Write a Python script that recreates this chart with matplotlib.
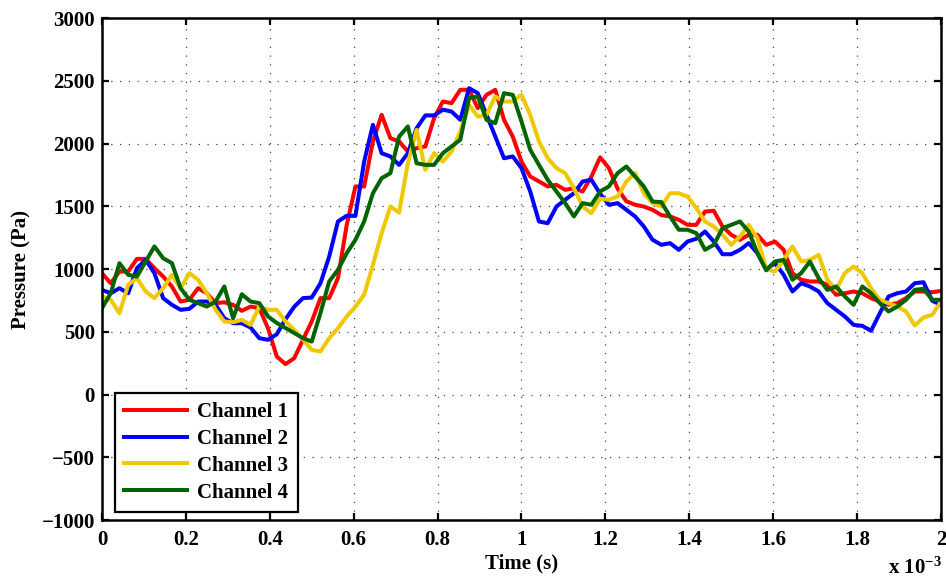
import numpy as np
import matplotlib
matplotlib.use("Agg")
import matplotlib.pyplot as plt


##################################
# Data (pressure in Pa, 48 kHz samples over 2 ms)
##################################
t_ms = np.arange(97) / 48.0

channel1 = [967, 887, 980, 980, 1081, 1081, 1007, 940, 861, 741,
            755, 847, 807, 728, 735, 715, 667, 701, 688, 528,
            303, 242, 290, 436, 582, 768, 768, 927, 1350, 1658,
            1658, 2016, 2229, 2043, 2016, 1937, 1963, 1977, 2202, 2335,
            2322, 2428, 2428, 2282, 2388, 2428, 2189, 2056, 1857, 1737,
            1698, 1658, 1671, 1631, 1644, 1618, 1737, 1890, 1804, 1640,
            1540, 1512, 1498, 1472, 1430, 1419, 1392, 1352, 1352, 1458,
            1464, 1339, 1273, 1233, 1273, 1273, 1193, 1219, 1153, 967,
            914, 901, 901, 874, 795, 807, 821, 807, 768, 741,
            715, 728, 768, 821, 821, 815, 826]

channel2 = [834, 807, 847, 807, 1007, 1073, 967, 768, 715, 675,
            683, 741, 741, 715, 608, 568, 568, 534, 449, 436,
            480, 600, 700, 768, 773, 887, 1100, 1379, 1424, 1424,
            1857, 2149, 1923, 1897, 1830, 1923, 2122, 2224, 2224, 2270,
            2255, 2189, 2441, 2401, 2229, 2056, 1883, 1897, 1804, 1618,
            1379, 1365, 1498, 1552, 1604, 1698, 1711, 1600, 1512, 1525,
            1472, 1419, 1339, 1233, 1193, 1206, 1153, 1219, 1241, 1299,
            1219, 1118, 1118, 1153, 1206, 1126, 1000, 1047, 954, 821,
            887, 861, 821, 728, 675, 622, 555, 547, 508, 648,
            781, 807, 821, 887, 895, 747, 715]

channel3 = [781, 755, 648, 874, 927, 821, 768, 847, 954, 847,
            967, 914, 807, 675, 582, 576, 595, 555, 701, 675,
            675, 582, 515, 440, 356, 343, 449, 528, 622, 701,
            795, 1034, 1286, 1498, 1450, 1843, 2109, 1791, 1923, 1857,
            1937, 2096, 2309, 2216, 2229, 2375, 2335, 2335, 2388, 2229,
            2016, 1883, 1804, 1764, 1644, 1498, 1445, 1560, 1552, 1578,
            1698, 1764, 1604, 1525, 1498, 1604, 1604, 1578, 1485, 1379,
            1339, 1273, 1193, 1259, 1352, 1246, 1000, 980, 1073, 1180,
            1060, 1073, 1113, 914, 834, 967, 1020, 967, 847, 755,
            728, 701, 662, 550, 614, 635, 741]

channel4 = [688, 807, 1047, 954, 940, 1060, 1180, 1086, 1047, 847,
            755, 728, 701, 741, 861, 608, 799, 741, 728, 622,
            570, 530, 490, 449, 422, 650, 901, 994, 1126, 1233,
            1379, 1604, 1724, 1764, 2056, 2136, 1843, 1830, 1830, 1923,
            1977, 2030, 2362, 2375, 2189, 2162, 2401, 2388, 2176, 1950,
            1830, 1711, 1618, 1525, 1419, 1525, 1512, 1618, 1658, 1764,
            1817, 1737, 1658, 1538, 1533, 1419, 1313, 1313, 1286, 1153,
            1193, 1325, 1352, 1379, 1299, 1126, 990, 1060, 1073, 914,
            967, 1060, 927, 834, 861, 781, 715, 861, 807, 728,
            662, 701, 755, 834, 842, 755, 755]

labels = ['Channel 1', 'Channel 2', 'Channel 3', 'Channel 4']
colors = ['#ff0000', '#0000ff', '#f0c800', '#006400']

xticks = [0, 0.2, 0.4, 0.6, 0.8, 1.0, 1.2, 1.4, 1.6, 1.8, 2.0]
yticks = [-1000, -500, 0, 500, 1000, 1500, 2000, 2500, 3000]


##################################
# Style (MATLAB-like)
##################################
plt.rcParams['font.family'] = ['Liberation Serif', 'DejaVu Serif']
plt.rcParams['font.weight'] = 'bold'
plt.rcParams['mathtext.fontset'] = 'custom'
plt.rcParams['mathtext.rm'] = 'Liberation Serif:bold'
plt.rcParams['mathtext.bf'] = 'Liberation Serif:bold'
plt.rcParams['mathtext.default'] = 'bf'

fig = plt.figure(figsize=(9.46, 5.82), dpi=100)
ax = fig.add_axes([0.1078, 0.1065, 0.8869, 0.8625])

for data, lab, col in zip([channel1, channel2, channel3, channel4], labels, colors):
    ax.plot(t_ms, data, color=col, linewidth=2.9, label=lab)

ax.set_xlim(0, 2)
ax.set_ylim(-1000, 3000)
ax.set_xticks(xticks)
ax.set_xticklabels(['%g' % x for x in xticks])
ax.set_yticks(yticks)
ax.set_yticklabels([str(y).replace('-', '\u2212') for y in yticks])

ax.grid(True, color='#444444', linestyle=(0, (1, 6)), linewidth=0.9)
ax.tick_params(direction='in', length=5, width=1.6, top=True, right=True,
               labelsize=15, pad=5)
ax.tick_params(axis='x', pad=7)
for s in ax.spines.values():
    s.set_linewidth(1.8)

ax.set_xlabel('Time (s)', fontsize=15, fontweight='bold', labelpad=3)
ax.set_ylabel('Pressure (Pa)', fontsize=15, fontweight='bold', labelpad=7)

fig.text(0.939, 0.005, r'x 10$^{-3}$', fontsize=15, ha='left', va='bottom')

leg = ax.legend(loc='lower left', bbox_to_anchor=(0.0155, 0.016),
                borderaxespad=0, fancybox=False, edgecolor='black',
                framealpha=1, fontsize=15, handlelength=3.0,
                handletextpad=0.5, labelspacing=0.33, borderpad=0.45)
leg.get_frame().set_linewidth(1.6)

plt.savefig('out.png', dpi=100)
